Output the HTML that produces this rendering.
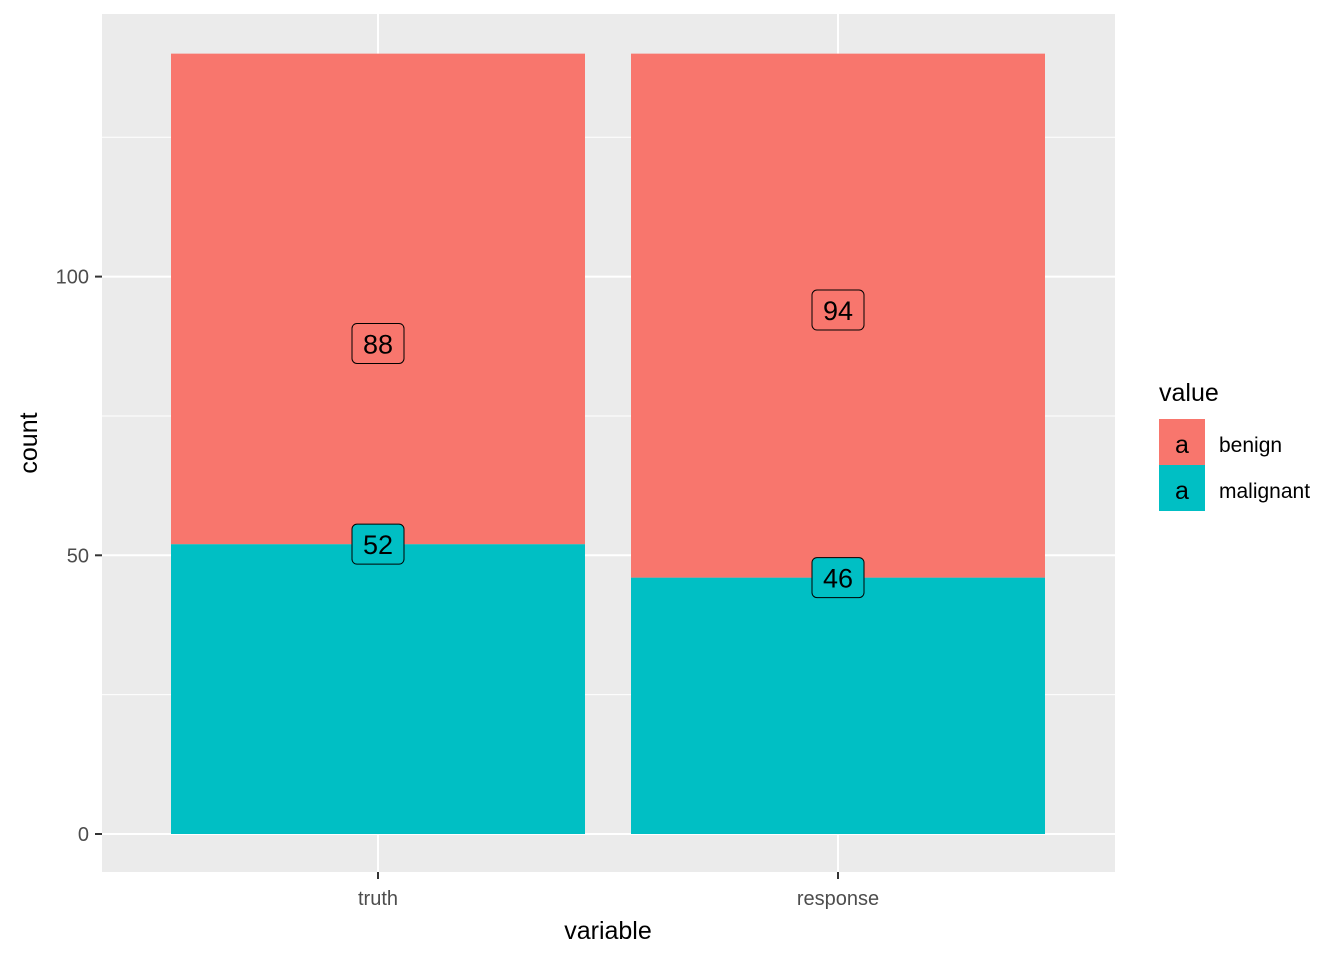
<!DOCTYPE html>
<html><head><meta charset="utf-8"><style>
body{margin:0;background:#fff;}
svg{display:block;font-family:"Liberation Sans",Arial,sans-serif;}
</style></head><body>
<svg id="chart" width="1344" height="960">
<rect x="102" y="14" width="1013" height="858" fill="#EBEBEB"/>
<g id="grid"></g>
<g id="bars"></g>
<g id="labels"></g>
<g id="axes"></g>
<text x="37" y="443" transform="rotate(-90 37 443)" text-anchor="middle" font-size="25" fill="#000">count</text>
<text x="608" y="939" text-anchor="middle" font-size="25" fill="#000">variable</text>
<g>
<text x="1159" y="401" font-size="25" fill="#000">value</text>
<g>
<rect x="1159" y="419" width="46" height="46" fill="#F8766D"/>
<text x="1182" y="453" text-anchor="middle" font-size="25" fill="#000">a</text>
<text x="1219" y="452" font-size="21" fill="#000">benign</text>
</g>
<g>
<rect x="1159" y="465" width="46" height="46" fill="#00BFC4"/>
<text x="1182" y="499" text-anchor="middle" font-size="25" fill="#000">a</text>
<text x="1219" y="498" font-size="21" fill="#000">malignant</text>
</g>
</g>
</svg>
<script>
const categories=["truth","response"];
const benign=[88,94];
const malignant=[52,46];
const yTicks=[0,50,100];
const yMinor=[25,75,125];
const NS="http://www.w3.org/2000/svg";
const y=v=>834-v*5.574;
const xc=i=>378+i*460;
const bw=414;
function mk(tag,attrs,parent){const e=document.createElementNS(NS,tag);for(const k in attrs)e.setAttribute(k,attrs[k]);parent.appendChild(e);return e;}
const grid=document.getElementById('grid'),bars=document.getElementById('bars'),labels=document.getElementById('labels'),axes=document.getElementById('axes');
yMinor.forEach(v=>{const l=mk('line',{x1:102,x2:1115,y1:y(v),y2:y(v),stroke:'#fff','stroke-width':1},grid);

});
yTicks.forEach(v=>{const l=mk('line',{x1:102,x2:1115,y1:y(v),y2:y(v),stroke:'#fff','stroke-width':2},grid);


const t=mk('line',{x1:95,x2:102,y1:y(v),y2:y(v),stroke:'#333','stroke-width':2},axes);


const tx=mk('text',{x:89,y:y(v)+7,'text-anchor':'end','font-size':20,fill:'#4D4D4D'},axes);tx.textContent=v;

});
categories.forEach((c,i)=>{
const g=mk('line',{x1:xc(i),x2:xc(i),y1:14,y2:872,stroke:'#fff','stroke-width':2},grid);


const tot=benign[i]+malignant[i];
const rm=mk('rect',{x:xc(i)-bw/2,y:y(malignant[i]),width:bw,height:y(0)-y(malignant[i]),fill:'#00BFC4'},bars);


const rb=mk('rect',{x:xc(i)-bw/2,y:y(tot),width:bw,height:y(malignant[i])-y(tot),fill:'#F8766D'},bars);


[[benign[i],'#F8766D','benign'],[malignant[i],'#00BFC4','malignant']].forEach(([v,col,n])=>{
const gg=mk('g',{},labels);


mk('rect',{x:xc(i)-26,y:y(v)-20,width:52,height:40,rx:5,fill:col,stroke:'#000','stroke-width':1},gg);
const t=mk('text',{x:xc(i),y:y(v)+10,'text-anchor':'middle','font-size':27,fill:'#000'},gg);t.textContent=v;});
const tk=mk('line',{x1:xc(i),x2:xc(i),y1:872,y2:879,stroke:'#333','stroke-width':2},axes);


const tl=mk('text',{x:xc(i),y:905,'text-anchor':'middle','font-size':20,fill:'#4D4D4D'},axes);tl.textContent=c;


});
</script>
</body></html>
